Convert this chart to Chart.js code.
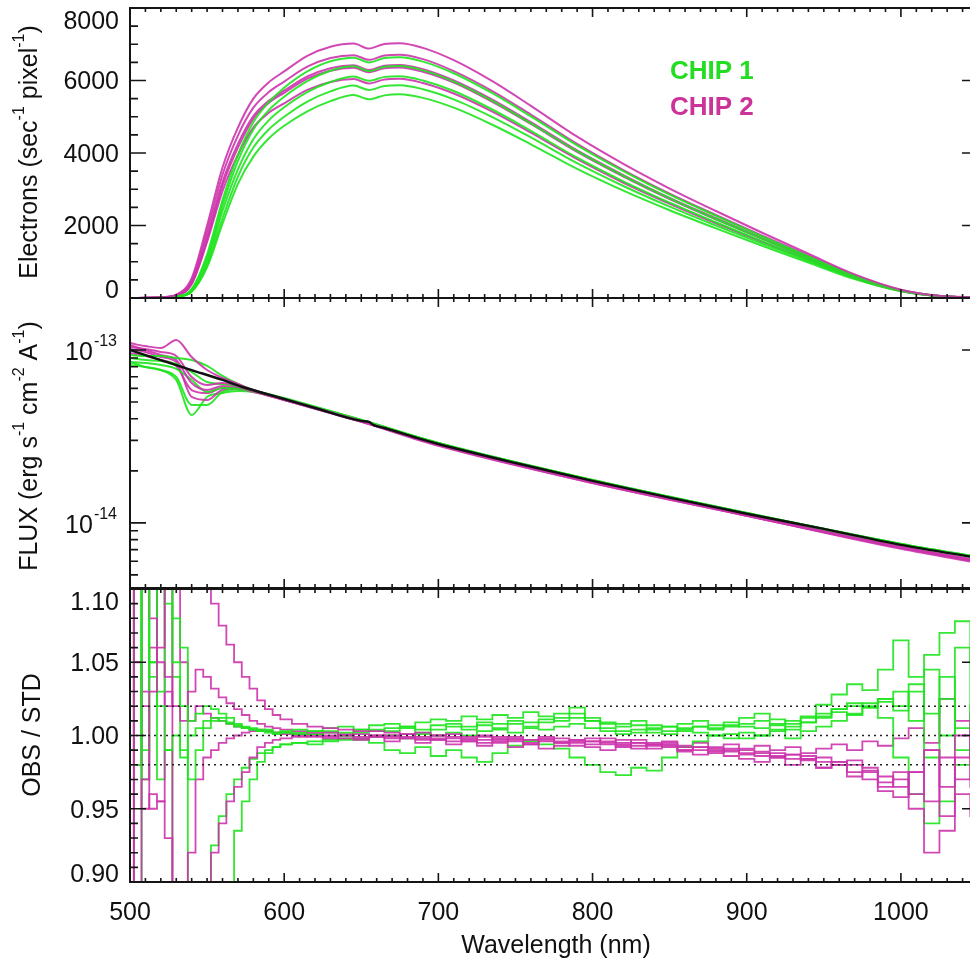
<!DOCTYPE html>
<html>
<head>
<meta charset="utf-8">
<script src="https://cdn.jsdelivr.net/npm/chart.js@4.4.0/dist/chart.umd.min.js"></script>
<style>
  html, body { margin: 0; padding: 0; background: #fff; overflow: hidden; }
  #wrap { position: relative; width: 970px; height: 969px; overflow: hidden; }
  canvas { position: absolute; left: 0; top: 0; }
</style>
</head>
<body>
<div id="wrap">
  <canvas id="topPanel" width="980" height="969"></canvas>
  <canvas id="midPanel" width="980" height="969"></canvas>
  <canvas id="botPanel" width="980" height="969"></canvas>
</div>
<script>
const GREEN = "rgba(30, 228, 30, 0.9)";
const MAGENTA = "rgba(204, 52, 172, 0.9)";
const FONT = '"Liberation Sans", Arial, Helvetica, sans-serif';

const X_MIN = 500;
const X_MAX = 1050;
const xTicks = [500, 600, 700, 800, 900, 1000];
const xTickLabels = ["500", "600", "700", "800", "900", "1000"];

// ---- top panel: electrons per second per pixel ----
const electronWl = [500, 520, 530, 540, 550, 560, 570, 580, 590, 600, 615, 630, 645, 655, 665,
  675, 690, 710, 735, 760, 790, 820, 850, 880, 910, 940, 970, 1000, 1025, 1050];

const electronsChip1 = [
  [0, 10, 40, 250, 1200, 2700, 3950, 4850, 5400, 5800, 6250, 6530, 6630, 6500, 6620, 6640, 6520, 6200, 5650, 5010, 4210, 3500, 2850, 2270, 1700, 1150, 615, 217, 57, 14],
  [0, 10, 40, 230, 1100, 2550, 3780, 4650, 5180, 5550, 5980, 6270, 6390, 6260, 6380, 6400, 6280, 5970, 5440, 4820, 4050, 3370, 2750, 2180, 1640, 1110, 590, 209, 55, 14],
  [0, 8, 35, 200, 1000, 2400, 3550, 4380, 4900, 5260, 5680, 5960, 6110, 5990, 6100, 6120, 6000, 5710, 5200, 4610, 3870, 3220, 2630, 2090, 1570, 1060, 565, 200, 52, 13],
  [0, 8, 30, 180, 900, 2200, 3350, 4150, 4650, 5000, 5420, 5700, 5860, 5740, 5850, 5870, 5760, 5480, 4990, 4430, 3720, 3090, 2520, 2000, 1500, 1020, 545, 192, 50, 13],
  [0, 8, 30, 170, 850, 2050, 3150, 3900, 4400, 4750, 5150, 5430, 5600, 5480, 5590, 5620, 5520, 5250, 4780, 4240, 3560, 2960, 2420, 1920, 1440, 980, 520, 184, 48, 12]
];
const electronsChip2 = [
  [0, 20, 90, 550, 2000, 3600, 4700, 5500, 5950, 6250, 6680, 6930, 7020, 6880, 7010, 7030, 6900, 6560, 5980, 5300, 4450, 3700, 3020, 2400, 1800, 1220, 650, 230, 60, 15],
  [0, 18, 80, 480, 1850, 3400, 4480, 5250, 5680, 5970, 6380, 6620, 6700, 6570, 6690, 6710, 6590, 6260, 5710, 5060, 4250, 3530, 2880, 2290, 1720, 1170, 620, 220, 57, 14],
  [0, 18, 75, 430, 1700, 3200, 4250, 5020, 5440, 5720, 6110, 6340, 6420, 6290, 6410, 6430, 6310, 6000, 5470, 4850, 4070, 3390, 2760, 2200, 1650, 1120, 595, 210, 55, 14],
  [0, 15, 65, 400, 1600, 3100, 4150, 4950, 5380, 5660, 6050, 6270, 6350, 6230, 6340, 6360, 6240, 5940, 5410, 4800, 4030, 3350, 2730, 2170, 1630, 1100, 590, 208, 54, 14],
  [0, 15, 65, 380, 1550, 2950, 3950, 4700, 5110, 5370, 5740, 5960, 6040, 5920, 6030, 6050, 5930, 5640, 5140, 4560, 3830, 3180, 2600, 2060, 1550, 1050, 560, 198, 52, 13]
];
const electronTicks = [0, 2000, 4000, 6000, 8000];

// ---- middle panel: flux ----
const stdWl = [500, 520, 540, 560, 573, 600, 620, 650, 655, 658, 665, 686, 700, 750, 800, 850, 900, 950, 1000, 1050];
const stdFlux = [1.0e-13, 8.75e-14, 7.66e-14, 6.71e-14, 6.11e-14, 5.21e-14, 4.62e-14, 3.89e-14, 3.84e-14, 3.68e-14,
  3.54e-14, 3.10e-14, 2.86e-14, 2.22e-14, 1.75e-14, 1.40e-14, 1.13e-14, 9.23e-15, 7.46e-15, 6.28e-15];

const fluxWl = [500, 510, 520, 530, 540, 550, 560, 570, 580, 600, 650, 700, 800, 900, 1000, 1050];
const fluxChip1 = [
  [9.36e-14, 9.24e-14, 9.24e-14, 8.99e-14, 8.75e-14, 8.09e-14, 7.08e-14, 6.36e-14, 5.87e-14, 5.28e-14, 3.94e-14, 2.90e-14, 1.77e-14, 1.14e-14, 7.56e-15, 6.36e-15],
  [8.99e-14, 8.75e-14, 8.64e-14, 8.30e-14, 7.46e-14, 6.53e-14, 6.36e-14, 6.19e-14, 5.79e-14, 5.21e-14, 3.94e-14, 2.90e-14, 1.77e-14, 1.14e-14, 7.56e-15, 6.36e-15],
  [8.53e-14, 8.41e-14, 8.19e-14, 7.77e-14, 6.71e-14, 5.72e-14, 6.03e-14, 6.03e-14, 5.79e-14, 5.21e-14, 3.89e-14, 2.86e-14, 1.75e-14, 1.13e-14, 7.46e-15, 6.28e-15],
  [8.19e-14, 7.98e-14, 7.66e-14, 6.98e-14, 4.81e-14, 4.81e-14, 5.72e-14, 5.95e-14, 5.79e-14, 5.21e-14, 3.94e-14, 2.90e-14, 1.77e-14, 1.14e-14, 7.56e-15, 6.36e-15],
  [8.53e-14, 7.98e-14, 7.66e-14, 6.71e-14, 4.21e-14, 5.35e-14, 5.64e-14, 5.79e-14, 5.72e-14, 5.21e-14, 3.89e-14, 2.86e-14, 1.75e-14, 1.13e-14, 7.46e-15, 6.28e-15]
];
const fluxChip2 = [
  [1.097e-13, 1.054e-13, 1.027e-13, 1.143e-13, 9.11e-14, 7.66e-14, 6.89e-14, 6.36e-14, 5.87e-14, 5.21e-14, 3.89e-14, 2.83e-14, 1.73e-14, 1.11e-14, 7.26e-15, 6.03e-15],
  [1.04e-13, 1.013e-13, 9.74e-14, 9.24e-14, 6.98e-14, 6.28e-14, 6.44e-14, 6.19e-14, 5.79e-14, 5.14e-14, 3.84e-14, 2.83e-14, 1.73e-14, 1.10e-14, 7.17e-15, 5.96e-15],
  [1.069e-13, 1.0e-13, 9.36e-14, 8.75e-14, 6.44e-14, 5.87e-14, 6.19e-14, 6.11e-14, 5.79e-14, 5.21e-14, 3.89e-14, 2.83e-14, 1.70e-14, 1.10e-14, 7.08e-15, 5.88e-15],
  [9.61e-14, 9.24e-14, 8.75e-14, 8.09e-14, 5.87e-14, 5.64e-14, 6.03e-14, 6.03e-14, 5.79e-14, 5.14e-14, 3.84e-14, 2.79e-14, 1.70e-14, 1.10e-14, 7.17e-15, 5.96e-15],
  [1.013e-13, 9.74e-14, 9.11e-14, 8.53e-14, 5.35e-14, 5.14e-14, 5.87e-14, 5.95e-14, 5.72e-14, 5.14e-14, 3.89e-14, 2.83e-14, 1.73e-14, 1.11e-14, 7.26e-15, 6.11e-15]
];
const fluxTicks = [1e-14, 1e-13];
const fluxTickExp = ["-14", "-13"];

// ---- bottom panel: OBS / STD ----
const ratioWl = [500, 505, 510, 515, 520, 525, 530, 535, 540, 545, 550, 555, 560, 565, 570, 575, 580, 585, 590, 595, 600,
  610, 620, 630, 640, 650, 660, 670, 680, 690, 700, 710, 720, 730, 740, 750, 760, 770, 780, 790, 800,
  810, 820, 830, 840, 850, 860, 870, 880, 890, 900, 910, 920, 930, 940, 950, 960, 970, 980, 990, 1000,
  1010, 1020, 1030, 1040, 1050];

const ratioChip1 = [
  [1.15, 1.15, 0.99, 1.12, 1.15, 1.09, 1.05, 1.02, 0.97, 0.99, 1.005, 1.01, 1.012, 1.008, 1.006, 1.005, 1.004, 1.003, 1.004, 1.002, 1.003,
   1.004, 1.003, 1.005, 1.006, 1.004, 1.007, 1.008, 1.006, 1.009, 1.011,
   1.010, 1.013, 1.011, 1.014, 1.012, 1.016, 1.013, 1.015, 1.019, 1.012,
   1.009, 1.008, 1.010, 1.007, 1.006, 1.008, 1.010, 1.007, 1.009, 1.012,
   1.015, 1.011, 1.008, 1.013, 1.021, 1.028, 1.035, 1.031, 1.045, 1.065,
   1.040, 1.055, 1.070, 1.078, 1.050],
  [1.15, 0.85, 1.15, 1.05, 1.03, 1.10, 1.08, 1.06, 1.01, 1.015, 1.02, 1.018, 1.015, 1.012, 1.008, 1.006, 1.005, 1.004, 1.002, 1.001, 1.002,
   1.002, 1.001, 1.003, 1.002, 1.004, 1.003, 1.005, 1.006, 1.004, 1.007,
   1.008, 1.006, 1.009, 1.008, 1.010, 1.009, 1.011, 1.010, 1.012, 1.010,
   1.008, 1.006, 1.007, 1.005, 1.006, 1.004, 1.006, 1.005, 1.007, 1.006,
   1.005, 1.008, 1.010, 1.012, 1.015, 1.018, 1.020, 1.022, 1.025, 1.020,
   1.030, 1.015, 1.040, 1.005, 1.020],
  [0.99, 1.15, 1.12, 1.04, 1.02, 0.99, 1.00, 0.985, 1.00, 1.005, 1.01, 1.012, 1.01, 1.009, 1.007, 1.005, 1.004, 1.003, 1.003, 1.002, 1.002,
   1.001, 1.003, 1.002, 1.000, 1.002, 1.004, 1.003, 1.005, 1.002, 1.004,
   1.006, 1.004, 1.007, 1.005, 1.008, 1.006, 1.009, 1.012, 1.015, 1.010,
   1.005, 1.003, 1.004, 1.002, 1.001, 1.003, 1.002, 1.000, 1.001, 0.998,
   1.000, 1.003, 1.006, 1.009, 1.012, 1.016, 1.014, 1.019, 1.023, 1.017,
   1.035, 0.985, 1.025, 0.990, 1.000],
  [1.15, 0.98, 1.15, 1.10, 0.97, 0.99, 0.85, 0.85, 0.85, 0.85, 0.88, 0.925, 0.945, 0.96, 0.97, 0.978, 0.984, 0.988, 0.990, 0.992, 0.994,
   0.995, 0.996, 0.997, 0.998, 0.997, 0.995, 0.990, 0.988, 0.992, 0.986,
   0.990, 0.985, 0.982, 0.988, 0.993, 0.996, 0.994, 0.991, 0.985, 0.980,
   0.975, 0.973, 0.978, 0.976, 0.985, 0.992, 0.996, 1.000, 0.998, 1.002,
   1.000, 1.004, 0.998, 1.003, 1.006, 1.010, 1.015, 1.020, 1.012, 0.985,
   0.960, 0.940, 0.955, 0.980, 0.995],
  [1.02, 1.15, 0.97, 1.05, 1.15, 1.10, 1.04, 0.99, 0.85, 0.85, 0.85, 0.85, 0.85, 0.90, 0.935, 0.955, 0.970, 0.982, 0.988, 0.992, 0.994,
   0.995, 0.994, 0.996, 0.997, 0.998, 0.999, 1.000, 0.998, 1.001, 1.000,
   1.002, 1.000, 1.003, 1.004, 1.002, 1.005, 1.004, 1.006, 1.008, 1.005,
   1.003, 1.001, 1.002, 1.004, 1.003, 1.005, 1.006, 1.004, 1.006, 1.008,
   1.010, 1.007, 1.004, 1.009, 1.013, 1.018, 1.022, 1.019, 1.025, 1.030,
   1.010, 1.045, 1.000, 1.060, 0.985]
];
const ratioChip2 = [
  [1.15, 0.85, 0.97, 1.03, 1.06, 1.15, 1.15, 1.15, 1.15, 1.15, 1.15, 1.09, 1.075, 1.062, 1.050, 1.040, 1.032, 1.024, 1.018, 1.014, 1.011,
   1.008, 1.006, 1.005, 1.004, 1.003, 1.003, 1.002, 1.001, 1.002, 1.000,
   1.001, 0.999, 1.000, 0.998, 0.999, 0.997, 0.998, 0.996, 0.997, 0.998,
   0.996, 0.994, 0.995, 0.993, 0.995, 0.992, 0.990, 0.991, 0.989, 0.990,
   0.988, 0.986, 0.987, 0.984, 0.985, 0.982, 0.980, 0.978, 0.972, 0.965,
   0.975, 0.955, 0.985, 0.970, 1.010],
  [0.85, 1.15, 1.15, 1.08, 1.05, 1.04, 1.02, 1.01, 1.03, 1.045, 1.04, 1.032, 1.026, 1.022, 1.018, 1.014, 1.010, 1.008, 1.006, 1.005, 1.004,
   1.003, 1.002, 1.002, 1.000, 1.001, 0.999, 1.000, 0.998, 0.999, 0.997,
   0.998, 0.996, 0.997, 0.999, 0.997, 0.995, 0.996, 0.998, 0.996, 0.994,
   0.995, 0.997, 0.993, 0.995, 0.994, 0.990, 0.992, 0.989, 0.991, 0.988,
   0.986, 0.988, 0.984, 0.986, 0.982, 0.980, 0.983, 0.975, 0.968, 0.975,
   0.960, 0.990, 0.945, 1.000, 0.965],
  [1.15, 1.15, 0.95, 0.96, 0.955, 0.93, 0.90, 0.85, 0.85, 0.85, 0.87, 0.92, 0.94, 0.955, 0.965, 0.975, 0.985, 0.992, 0.995, 0.997, 0.998,
   0.999, 1.000, 0.998, 1.001, 0.999, 1.000, 0.998, 0.999, 0.997, 0.998,
   0.996, 0.998, 0.995, 0.997, 0.996, 0.994, 0.997, 0.995, 0.993, 0.996,
   0.994, 0.992, 0.995, 0.991, 0.993, 0.990, 0.992, 0.988, 0.990, 0.987,
   0.989, 0.985, 0.987, 0.983, 0.978, 0.980, 0.972, 0.976, 0.965, 0.970,
   0.950, 0.920, 0.935, 0.960, 0.945],
  [0.85, 1.05, 1.02, 0.95, 0.955, 1.03, 0.90, 0.85, 0.92, 0.97, 0.985, 0.99, 0.995, 0.998, 1.000, 1.002, 1.003, 1.004, 1.003, 1.002, 1.002,
   1.001, 0.999, 1.000, 0.998, 0.997, 0.999, 0.996, 0.998, 0.995, 0.997,
   0.994, 0.996, 0.993, 0.995, 0.992, 0.994, 0.991, 0.993, 0.995, 0.992,
   0.990, 0.993, 0.991, 0.994, 0.992, 0.989, 0.987, 0.990, 0.986, 0.984,
   0.982, 0.985, 0.980, 0.984, 0.978, 0.982, 0.975, 0.970, 0.962, 0.958,
   0.975, 0.990, 0.965, 0.985, 1.005],
  [1.15, 0.98, 1.03, 1.06, 1.15, 1.02, 1.10, 1.05, 1.01, 1.02, 1.015, 1.012, 1.010, 1.008, 1.006, 1.005, 1.004, 1.003, 1.003, 1.002, 1.001,
   1.000, 1.001, 0.999, 1.000, 0.998, 1.000, 0.999, 1.001, 0.998, 1.000,
   0.999, 0.997, 0.999, 0.996, 0.998, 0.997, 0.999, 0.995, 0.997, 0.996,
   0.998, 0.995, 0.997, 0.994, 0.996, 0.993, 0.995, 0.992, 0.994, 0.991,
   0.993, 0.990, 0.992, 0.988, 0.991, 0.994, 0.990, 0.996, 0.993, 0.998,
   1.005, 0.995, 1.025, 1.010, 1.015]
];
const ratioTicks = [0.90, 0.95, 1.00, 1.05, 1.10];
const ratioTickLabels = ["0.90", "0.95", "1.00", "1.05", "1.10"];
const ratioRefLines = [0.98, 1.00, 1.02];

// ---------------------------------------------------------------

function series(xs, ys, color, width, extra) {
  return Object.assign({
    data: xs.map((x, i) => ({ x: x, y: ys[i] })),
    borderColor: color,
    borderWidth: width,
    pointRadius: 0,
    fill: false,
  }, extra || {});
}

function interleave(chip1, chip2, xs, width, extra) {
  const out = [];
  for (let i = 0; i < Math.max(chip1.length, chip2.length); i++) {
    if (chip2[i]) out.push(series(xs, chip2[i], MAGENTA, width, extra));
    if (chip1[i]) out.push(series(xs, chip1[i], GREEN, width, extra));
  }
  return out;
}

function drawRich(ctx, parts, cx, cy, size, rotate) {
  const base = size + "px " + FONT;
  const sup = Math.round(size * 0.62) + "px " + FONT;
  ctx.save();
  ctx.translate(cx, cy);
  if (rotate) ctx.rotate(-Math.PI / 2);
  let w = 0;
  parts.forEach((p) => {
    ctx.font = p.sup ? sup : base;
    w += ctx.measureText(p.t).width;
  });
  let x = -w / 2;
  ctx.textAlign = "left";
  ctx.textBaseline = "middle";
  parts.forEach((p) => {
    ctx.font = p.sup ? sup : base;
    ctx.fillText(p.t, x, p.sup ? -size * 0.4 : 0);
    x += ctx.measureText(p.t).width;
  });
  ctx.restore();
}

// frame with inward ticks on all four sides, labels drawn by cfg
function framePlugin(cfg) {
  return {
    id: "frame",
    afterDatasetsDraw(chart) {
      const ctx = chart.ctx;
      const a = chart.chartArea;
      const xs = chart.scales.x;
      const ys = chart.scales.y;
      ctx.save();
      ctx.strokeStyle = "#151515";
      ctx.lineWidth = 1.6;
      ctx.beginPath();
      for (let v = X_MIN; v <= X_MAX; v += 10) {
        const px = xs.getPixelForValue(v);
        const len = v % 100 === 0 ? 9 : 4;
        ctx.moveTo(px, a.bottom);
        ctx.lineTo(px, a.bottom - len);
        ctx.moveTo(px, a.top);
        ctx.lineTo(px, a.top + len);
      }
      cfg.minor.forEach((v) => {
        const py = ys.getPixelForValue(v);
        ctx.moveTo(a.left, py);
        ctx.lineTo(a.left + 8, py);
        ctx.moveTo(a.right, py);
        ctx.lineTo(a.right - 8, py);
      });
      cfg.major.forEach((v) => {
        const py = ys.getPixelForValue(v);
        ctx.moveTo(a.left, py);
        ctx.lineTo(a.left + 16, py);
        ctx.moveTo(a.right, py);
        ctx.lineTo(a.right - 16, py);
      });
      ctx.stroke();
      ctx.lineWidth = 2;
      ctx.strokeRect(a.left, a.top, a.right - a.left, a.bottom - a.top);

      ctx.fillStyle = "#111";
      cfg.labels(ctx, ys, a);
      if (cfg.xLabels) {
        ctx.font = "25px " + FONT;
        ctx.textAlign = "center";
        ctx.textBaseline = "middle";
        xTicks.forEach((v, i) => {
          ctx.fillText(xTickLabels[i], xs.getPixelForValue(v), 913);
        });
        drawRich(ctx, [{ t: "Wavelength (nm)" }], 556, 946, 25, false);
      }
      if (cfg.extra) cfg.extra(ctx);
      ctx.restore();
    }
  };
}

function clampY(py, a) {
  return Math.min(Math.max(py + 2, a.top + 14), a.bottom - 7);
}

function baseOptions(pad, yScale) {
  return {
    responsive: false,
    animation: false,
    events: [],
    devicePixelRatio: 1,
    layout: { padding: pad },
    plugins: { legend: { display: false }, tooltip: { enabled: false } },
    scales: {
      x: { type: "linear", min: X_MIN, max: X_MAX, display: false },
      y: Object.assign({ display: false }, yScale),
    },
  };
}

// ---- top chart ----
const topMinor = [];
for (let v = 500; v < 8000; v += 500) if (v % 2000 !== 0) topMinor.push(v);

new Chart(document.getElementById("topPanel"), {
  type: "line",
  data: { datasets: interleave(electronsChip1, electronsChip2, electronWl, 2, { cubicInterpolationMode: "monotone" }) },
  options: baseOptions({ left: 130, top: 8, right: 2, bottom: 969 - 298 }, { type: "linear", min: 0, max: 8000 }),
  plugins: [framePlugin({
    major: electronTicks,
    minor: topMinor,
    labels(ctx, ys, a) {
      ctx.font = "25px " + FONT;
      ctx.textAlign = "right";
      ctx.textBaseline = "middle";
      electronTicks.forEach((v) => ctx.fillText(String(v), 119, clampY(ys.getPixelForValue(v), a)));
      drawRich(ctx, [{ t: "Electrons (sec" }, { t: "-1", sup: true }, { t: " pixel" }, { t: "-1", sup: true }, { t: ")" }], 30, 152, 25, true);
    },
    extra(ctx) {
      ctx.font = "bold 26px " + FONT;
      ctx.textAlign = "left";
      ctx.textBaseline = "middle";
      ctx.fillStyle = "#22dd22";
      ctx.fillText("CHIP 1", 670, 72);
      ctx.fillStyle = "#cc3399";
      ctx.fillText("CHIP 2", 670, 108);
    }
  })]
});

// ---- middle chart ----
const fluxMinor = [];
[1e-15, 1e-14, 1e-13].forEach((d) => {
  for (let m = 2; m <= 9; m++) {
    const v = d * m;
    if (v > 4.2e-15 && v < 2e-13) fluxMinor.push(v);
  }
});

new Chart(document.getElementById("midPanel"), {
  type: "line",
  data: {
    datasets: [series(stdWl, stdFlux, "#111", 2.4, { cubicInterpolationMode: "monotone" })]
      .concat(interleave(fluxChip1, fluxChip2, fluxWl, 2, { cubicInterpolationMode: "monotone" }))
  },
  options: baseOptions({ left: 130, top: 298, right: 2, bottom: 969 - 588 }, { type: "logarithmic", min: 4.2e-15, max: 2e-13 }),
  plugins: [framePlugin({
    major: fluxTicks,
    minor: fluxMinor,
    labels(ctx, ys, a) {
      fluxTicks.forEach((v, i) => {
        const py = ys.getPixelForValue(v);
        ctx.font = "16px " + FONT;
        ctx.textAlign = "right";
        ctx.textBaseline = "middle";
        const w = ctx.measureText(fluxTickExp[i]).width;
        ctx.fillText(fluxTickExp[i], 117, py - 8);
        ctx.font = "25px " + FONT;
        ctx.fillText("10", 117 - w - 1, py + 3);
      });
      drawRich(ctx, [{ t: "FLUX (erg s" }, { t: "-1", sup: true }, { t: " cm" }, { t: "-2", sup: true }, { t: " A" }, { t: "-1", sup: true }, { t: ")" }], 30, 446, 25, true);
    }
  })]
});

// ---- bottom chart ----
const ratioMinor = [];
for (let k = 91; k < 110; k++) if (k % 5 !== 0) ratioMinor.push(k / 100);

const refLineSets = ratioRefLines.map((v) => series([X_MIN, X_MAX], [v, v], "#222", 1.6, { borderDash: [2, 4] }));

new Chart(document.getElementById("botPanel"), {
  type: "line",
  data: {
    datasets: refLineSets.concat(interleave(ratioChip1, ratioChip2, ratioWl, 1.8, { stepped: "middle" }))
  },
  options: baseOptions({ left: 130, top: 589, right: 2, bottom: 969 - 882 }, { type: "linear", min: 0.9, max: 1.1 }),
  plugins: [framePlugin({
    major: ratioTicks,
    minor: ratioMinor,
    xLabels: true,
    labels(ctx, ys, a) {
      ctx.font = "25px " + FONT;
      ctx.textAlign = "right";
      ctx.textBaseline = "middle";
      ratioTicks.forEach((v, i) => ctx.fillText(ratioTickLabels[i], 119, clampY(ys.getPixelForValue(v), a)));
      drawRich(ctx, [{ t: "OBS / STD" }], 33, 735, 25, true);
    }
  })]
});
</script>
</body>
</html>
